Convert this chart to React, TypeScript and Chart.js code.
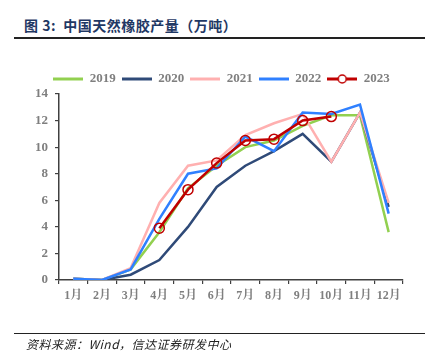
import React, { useEffect, useRef } from "react";
import { Chart, registerables } from "chart.js";

Chart.register(...registerables);

const categories = ["1月", "2月", "3月", "4月", "5月", "6月", "7月", "8月", "9月", "10月", "11月", "12月"];
const s2019 = [0.1, 0, 0.8, 3.6, 6.9, 8.6, 10.0, 10.5, 11.6, 12.4, 12.4, 3.6];
const s2020 = [0.1, 0, 0.4, 1.5, 4.0, 7.0, 8.6, 9.7, 11.0, 8.9, 12.6, 5.5];
const s2021 = [0.1, 0, 0.9, 5.8, 8.6, 9.0, 10.9, 11.8, 12.5, 8.9, 12.6, 5.8];
const s2022 = [0.1, 0, 0.8, 4.6, 8.0, 8.4, 10.8, 9.7, 12.6, 12.5, 13.2, 5.0];
const s2023 = [null, null, null, 3.9, 6.8, 8.8, 10.5, 10.6, 12.0, 12.3, null, null];
const yTicks = [0, 2, 4, 6, 8, 10, 12, 14];

const COLORS = {
  y2019: "#92D050",
  y2020: "#2F4A78",
  y2021: "#FFB0B0",
  y2022: "#2F80FF",
  y2023: "#C00000",
};

function legendSwatch(color: string, marker: boolean) {
  const c = document.createElement("canvas");
  c.width = 30;
  c.height = 12;
  const ctx = c.getContext("2d")!;
  ctx.strokeStyle = color;
  ctx.lineWidth = 3;
  ctx.beginPath();
  ctx.moveTo(0, 6);
  ctx.lineTo(30, 6);
  ctx.stroke();
  if (marker) {
    ctx.fillStyle = "#fff";
    ctx.lineWidth = 1.5;
    ctx.beginPath();
    ctx.arc(15, 6, 4, 0, Math.PI * 2);
    ctx.fill();
    ctx.stroke();
  }
  return c;
}

const shiftLegend = {
  id: "shiftLegend",
  afterLayout(chart: any) {
    const lg = chart.legend;
    if (lg) {
      lg.top += 1.5;
      lg.bottom += 1.5;
      lg.left += 20;
      lg.right += 20;
    }
  },
};

export default function App() {
  const ref = useRef<HTMLCanvasElement>(null);
  useEffect(() => {
    if (!ref.current) return;
    const tickFont = { family: "'Liberation Serif', 'Times New Roman', serif", size: 13, weight: "bold" as const };
    const swatches = [
      legendSwatch(COLORS.y2019, false),
      legendSwatch(COLORS.y2020, false),
      legendSwatch(COLORS.y2021, false),
      legendSwatch(COLORS.y2022, false),
      legendSwatch(COLORS.y2023, true),
    ];
    const mk = (label: string, data: (number | null)[], color: string, order: number) => ({
      label,
      data,
      borderColor: color,
      backgroundColor: color,
      borderWidth: 2.5,
      pointRadius: 0,
      pointHoverRadius: 0,
      tension: 0,
      order,
    });
    const chart = new Chart(ref.current, {
      type: "line",
      data: {
        labels: categories,
        datasets: [
          mk("2019", s2019, COLORS.y2019, 4),
          mk("2020", s2020, COLORS.y2020, 3),
          mk("2021", s2021, COLORS.y2021, 2),
          mk("2022", s2022, COLORS.y2022, 1),
          {
            label: "2023",
            data: s2023,
            borderColor: COLORS.y2023,
            backgroundColor: "#ffffff",
            borderWidth: 2.5,
            pointRadius: 5,
            pointBorderWidth: 1.5,
            pointBorderColor: COLORS.y2023,
            pointBackgroundColor: "rgba(255,255,255,0)",
            pointHoverRadius: 5,
            tension: 0,
            order: 0,
          },
        ],
      },
      plugins: [shiftLegend],
      options: {
        animation: false,
        responsive: false,
        maintainAspectRatio: false,
        events: [],
        layout: { padding: { top: 65, right: 31, bottom: 40, left: 0 } },
        plugins: {
          tooltip: { enabled: false },
          legend: {
            display: true,
            position: "top",
            labels: {
              usePointStyle: true,
              pointStyleWidth: 30,
              padding: 6,
              color: "#7F7F7F",
              font: tickFont,
              generateLabels: (ch: any) =>
                ch.data.datasets.map((ds: any, i: number) => ({
                  text: ds.label,
                  fillStyle: ds.borderColor,
                  strokeStyle: ds.borderColor,
                  lineWidth: 0,
                  pointStyle: swatches[i],
                  hidden: false,
                  datasetIndex: i,
                  fontColor: "#7F7F7F",
                })),
            },
          },
        },
        scales: {
          x: {
            type: "category",
            offset: true,
            afterFit: (s: any) => {
              s.height = 41;
            },
            grid: {
              display: true,
              offset: true,
              drawOnChartArea: false,
              drawTicks: true,
              tickLength: 4,
              color: "#404040",
              lineWidth: 1.2,
            },
            border: { display: true, color: "#404040", width: 1.5 },
            ticks: {
              color: "#7F7F7F",
              font: { family: "'Liberation Serif', 'Noto Serif CJK SC', 'Noto Sans CJK SC', serif", size: 12, weight: "bold" },
              padding: 5,
              maxRotation: 0,
              autoSkip: false,
            },
          },
          y: {
            min: 0,
            max: 14,
            afterFit: (s: any) => {
              s.width = 59;
            },
            afterBuildTicks: (s: any) => {
              s.ticks = yTicks.map((v) => ({ value: v }));
            },
            grid: {
              display: true,
              drawOnChartArea: false,
              drawTicks: true,
              tickLength: 4,
              color: "#404040",
              lineWidth: 1.2,
            },
            border: { display: true, color: "#404040", width: 1.5 },
            ticks: {
              color: "#7F7F7F",
              font: tickFont,
              padding: 7,
            },
          },
        },
      },
    } as any);
    return () => chart.destroy();
  }, []);

  return (
    <div style={{ position: "absolute", left: 0, top: 0, width: 434, height: 361, background: "#fff", overflow: "hidden" }}>
      <div
        style={{
          position: "absolute",
          left: 24,
          top: 15,
          fontFamily: "'Noto Sans CJK SC', sans-serif",
          fontWeight: "bold",
          fontSize: 14,
          letterSpacing: 0.5,
          color: "#1F3864",
          whiteSpace: "pre",
          lineHeight: "20px",
        }}
      >
        {"图 3:  中国天然橡胶产量（万吨）"}
      </div>
      <div style={{ position: "absolute", left: 14, top: 37, width: 411, height: 1.5, background: "#222" }} />
      <canvas ref={ref} width={434} height={361} style={{ position: "absolute", left: 0, top: 0 }} />
      <div style={{ position: "absolute", left: 14, top: 333, width: 411, height: 1.2, background: "#222" }} />
      <div
        style={{
          position: "absolute",
          left: 26,
          top: 335,
          fontFamily: "'Noto Sans CJK SC', 'Liberation Sans', sans-serif",
          fontStyle: "italic",
          fontSize: 12,
          letterSpacing: 0.5,
          color: "#222",
          whiteSpace: "pre",
          lineHeight: "18px",
        }}
      >
        {"资料来源：Wind，信达证券研发中心"}
      </div>
    </div>
  );
}
